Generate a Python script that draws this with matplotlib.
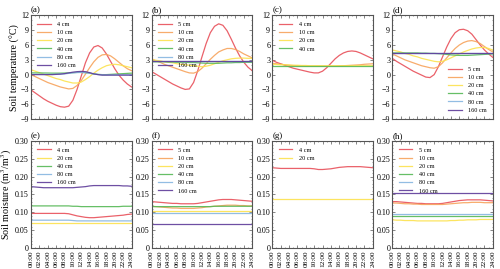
import matplotlib
matplotlib.use("Agg")
import matplotlib.pyplot as plt
from matplotlib.ticker import MultipleLocator, FuncFormatter
import numpy as np

plt.rcParams['font.family'] = ['Liberation Serif', 'DejaVu Serif']
plt.rcParams['mathtext.fontset'] = 'stix'

hours = list(range(25))
time_labels = [f"{h:02d}:00" for h in range(0, 25, 2)]

# ---------------- Soil temperature ----------------
a_labels = ["4 cm", "10 cm", "20 cm", "40 cm", "80 cm", "160 cm"]
a_4 = [-3.1, -3.7, -4.3, -4.9, -5.4, -5.8, -6.2, -6.5, -6.6, -6.4, -5.2, -3.0, -0.3, 2.4, 4.4, 5.6, 5.9, 5.4, 4.2, 2.7, 1.2, -0.1, -1.1, -1.9, -2.5]
a_10 = [0.0, -0.4, -0.8, -1.2, -1.6, -1.9, -2.2, -2.5, -2.7, -2.9, -2.8, -2.2, -1.2, 0.1, 1.4, 2.6, 3.5, 4.0, 4.1, 3.8, 3.2, 2.5, 1.8, 1.2, 0.8]
a_20 = [1.0, 0.7, 0.4, 0.1, -0.2, -0.5, -0.8, -1.0, -1.3, -1.5, -1.7, -1.7, -1.5, -1.0, -0.4, 0.3, 0.9, 1.4, 1.8, 2.0, 2.1, 2.0, 1.8, 1.6, 1.4]
a_40 = [0.35, 0.35, 0.34, 0.33, 0.32, 0.3, 0.3, 0.3, 0.32, 0.35, 0.4, 0.45, 0.45, 0.4, 0.3, 0.15, 0.05, 0.0, 0.0, 0.05, 0.1, 0.15, 0.2, 0.25, 0.3]
a_80 = [0.05, 0.05, 0.05, 0.05, 0.05, 0.05, 0.07, 0.1, 0.15, 0.25, 0.35, 0.42, 0.45, 0.4, 0.28, 0.12, 0.02, -0.03, -0.05, -0.05, -0.05, -0.05, -0.05, -0.05, -0.05]
a_160 = [0.0, 0.0, 0.0, 0.0, 0.0, 0.0, 0.05, 0.1, 0.2, 0.35, 0.5, 0.6, 0.65, 0.6, 0.4, 0.15, 0.0, -0.1, -0.1, -0.1, -0.1, -0.1, -0.1, -0.1, -0.1]

b_labels = ["5 cm", "10 cm", "20 cm", "40 cm", "80 cm", "160 cm"]
b_5 = [0.6, 0.1, -0.4, -0.9, -1.4, -1.9, -2.3, -2.7, -3.0, -2.9, -1.6, 0.8, 3.6, 6.3, 8.5, 9.8, 10.3, 10.0, 8.9, 7.2, 5.4, 3.8, 2.5, 1.5, 0.8]
b_10 = [3.2, 2.8, 2.5, 2.1, 1.8, 1.5, 1.2, 0.9, 0.6, 0.35, 0.3, 0.6, 1.3, 2.2, 3.1, 3.9, 4.6, 5.0, 5.3, 5.3, 5.1, 4.7, 4.2, 3.8, 3.4]
b_20 = [3.0, 2.9, 2.8, 2.6, 2.5, 2.4, 2.2, 2.1, 2.0, 1.9, 1.8, 1.7, 1.6, 1.7, 1.9, 2.2, 2.5, 2.8, 3.0, 3.2, 3.3, 3.35, 3.35, 3.3, 3.3]
b_40 = [2.6, 2.6, 2.6, 2.6, 2.55, 2.55, 2.5, 2.5, 2.5, 2.45, 2.45, 2.4, 2.35, 2.3, 2.3, 2.3, 2.3, 2.35, 2.4, 2.4, 2.45, 2.45, 2.5, 2.5, 2.5]
b_80 = [2.8] * 25
b_160 = [2.8] * 25

c_labels = ["4 cm", "10 cm", "20 cm", "40 cm"]
c_4 = [2.9, 2.5, 2.2, 1.9, 1.6, 1.3, 1.1, 0.9, 0.7, 0.5, 0.35, 0.35, 0.7, 1.4, 2.3, 3.2, 3.9, 4.4, 4.7, 4.8, 4.7, 4.4, 4.0, 3.6, 3.2]
c_10 = [2.3, 2.2, 2.1, 2.0, 1.9, 1.85, 1.8, 1.75, 1.7, 1.7, 1.7, 1.7, 1.7, 1.7, 1.7, 1.7, 1.75, 1.8, 1.85, 1.9, 1.95, 2.0, 2.1, 2.15, 2.2]
c_20 = [2.1, 2.05, 2.0, 2.0, 1.95, 1.9, 1.9, 1.85, 1.85, 1.8, 1.8, 1.8, 1.8, 1.8, 1.8, 1.8, 1.8, 1.8, 1.8, 1.8, 1.8, 1.8, 1.8, 1.8, 1.8]
c_40 = [1.7] * 25

d_labels = ["5 cm", "10 cm", "20 cm", "40 cm", "80 cm", "160 cm"]
d_5 = [3.3, 2.7, 2.2, 1.7, 1.2, 0.7, 0.3, -0.1, -0.5, -0.6, 0.0, 1.6, 3.6, 5.6, 7.3, 8.5, 9.1, 9.2, 8.9, 8.2, 7.1, 6.0, 5.0, 4.2, 3.5]
d_10 = [4.2, 3.8, 3.4, 3.0, 2.7, 2.4, 2.1, 1.8, 1.6, 1.4, 1.3, 1.6, 2.4, 3.4, 4.4, 5.3, 6.0, 6.5, 6.8, 6.9, 6.7, 6.3, 5.7, 5.1, 4.6]
d_20 = [5.0, 4.8, 4.6, 4.3, 4.1, 3.8, 3.6, 3.3, 3.1, 2.9, 2.7, 2.6, 2.7, 3.0, 3.4, 3.8, 4.2, 4.6, 4.9, 5.2, 5.4, 5.5, 5.5, 5.3, 5.0]
d_40 = [4.4, 4.4, 4.4, 4.4, 4.4, 4.4, 4.4, 4.35, 4.35, 4.3, 4.3, 4.25, 4.2, 4.1, 4.0, 3.95, 3.9, 3.9, 3.9, 3.95, 4.0, 4.05, 4.1, 4.15, 4.2]
d_80 = [4.3] * 25
d_160 = [4.3] * 25

# ---------------- Soil moisture ----------------
e_labels = ["4 cm", "20 cm", "40 cm", "80 cm", "160 cm"]
e_4 = [.097, .097, .097, .097, .097, .097, .097, .097, .097, .096, .093, .090, .088, .086, .085, .085, .086, .087, .088, .089, .090, .091, .092, .094, .095]
e_20 = [.071] * 25
e_40 = [.118, .118, .118, .118, .118, .118, .118, .118, .118, .118, .117, .117, .116, .116, .116, .116, .116, .116, .116, .116, .116, .116, .117, .117, .117]
e_80 = [.078, .078, .078, .078, .078, .078, .078, .078, .078, .078, .077, .076, .076, .076, .076, .076, .076, .076, .076, .076, .076, .076, .076, .076, .076]
e_160 = [.172, .171, .170, .169, .169, .169, .169, .169, .169, .169, .169, .170, .171, .172, .174, .175, .175, .175, .175, .175, .175, .175, .174, .174, .173]

f_labels = ["5 cm", "10 cm", "20 cm", "40 cm", "80 cm", "160 cm"]
f_5 = [.130, .129, .128, .127, .126, .125, .125, .124, .124, .124, .124, .125, .127, .129, .131, .133, .135, .136, .136, .136, .135, .134, .133, .132, .131]
f_10 = [.117, .116, .115, .114, .113, .112, .112, .111, .111, .111, .111, .112, .113, .115, .116, .117, .118, .119, .120, .120, .120, .119, .119, .118, .118]
f_20 = [.105] * 25
f_40 = [.116, .116, .116, .116, .116, .116, .116, .116, .116, .116, .116, .116, .116, .116, .116, .117, .117, .117, .117, .117, .117, .117, .117, .117, .117]
f_80 = [.099] * 25
f_160 = [.068] * 25

g_labels = ["4 cm", "20 cm"]
g_4 = [.225, .224, .223, .223, .223, .223, .223, .223, .223, .223, .222, .220, .220, .221, .222, .224, .226, .227, .228, .228, .228, .228, .227, .226, .225]
g_20 = [.138] * 25

h_labels = ["5 cm", "10 cm", "20 cm", "40 cm", "80 cm", "160 cm"]
h_5 = [.130, .130, .129, .128, .127, .126, .125, .125, .124, .124, .124, .124, .125, .127, .129, .131, .133, .134, .135, .135, .135, .135, .134, .133, .132]
h_10 = [.126, .126, .125, .124, .124, .123, .123, .122, .122, .122, .122, .122, .122, .123, .124, .125, .126, .127, .127, .128, .128, .128, .127, .127, .127]
h_20 = [.079, .078, .078, .077, .077, .077, .076, .076, .076, .076, .076, .076, .076, .076, .077, .077, .078, .078, .079, .079, .079, .080, .080, .080, .080]
h_40 = [.090] * 25
h_80 = [.094] * 25
h_160 = [.155] * 25

RED, ORANGE, YELLOW, GREEN, BLUE, PURPLE = '#e8505a', '#f7a35c', '#fce24f', '#55b855', '#86b6e0', '#5e3c99'
cols6 = [RED, ORANGE, YELLOW, GREEN, BLUE, PURPLE]

panels = [
    ("(a)", a_labels, [a_4, a_10, a_20, a_40, a_80, a_160], cols6, 'temp', 'upper left'),
    ("(b)", b_labels, [b_5, b_10, b_20, b_40, b_80, b_160], cols6, 'temp', 'upper left'),
    ("(c)", c_labels, [c_4, c_10, c_20, c_40], cols6[:4], 'temp', 'upper left'),
    ("(d)", d_labels, [d_5, d_10, d_20, d_40, d_80, d_160], cols6, 'temp', 'lower right'),
    ("(e)", e_labels, [e_4, e_20, e_40, e_80, e_160], [RED, YELLOW, GREEN, BLUE, PURPLE], 'moist', 'upper left'),
    ("(f)", f_labels, [f_5, f_10, f_20, f_40, f_80, f_160], cols6, 'moist', 'upper left'),
    ("(g)", g_labels, [g_4, g_20], [RED, YELLOW], 'moist', 'upper left'),
    ("(h)", h_labels, [h_5, h_10, h_20, h_40, h_80, h_160], cols6, 'moist', 'upper left'),
]

fig = plt.figure(figsize=(5.0, 2.69), dpi=100)
lefts = [0.062, 0.3034, 0.5446, 0.7846]
w = 0.201
rows = {'temp': (0.5576, 0.385), 'moist': (0.078, 0.398)}

for i, (tag, labels, series, colors, kind, loc) in enumerate(panels):
    b, hgt = rows[kind]
    ax = fig.add_axes([lefts[i % 4], b, w, hgt])
    for lab, ys, c in zip(labels, series, colors):
        ax.plot(hours, ys, color=c, lw=0.9, alpha=0.9, label=lab)
    ax.set_xlim(0, 24)
    ax.xaxis.set_major_locator(MultipleLocator(2))
    ax.xaxis.set_minor_locator(MultipleLocator(1))
    if kind == 'temp':
        ax.set_ylim(-9, 12)
        ax.yaxis.set_major_locator(MultipleLocator(3))
        ax.yaxis.set_minor_locator(MultipleLocator(1))
        ax.set_xticklabels([])
        if i == 0:
            ax.set_ylabel("Soil temperature (°C)", fontsize=7.2, labelpad=0.5)
    else:
        ax.set_ylim(0, 0.30)
        ax.yaxis.set_major_locator(MultipleLocator(0.05))
        ax.yaxis.set_minor_locator(MultipleLocator(0.01))
        ax.yaxis.set_major_formatter(FuncFormatter(lambda v, p: "0" if abs(v) < 1e-9 else f"{v:.2f}"))
        ax.set_xticks(range(0, 25, 2))
        ax.set_xticklabels(time_labels, rotation=90)
        if i == 4:
            ax.set_ylabel("Soil moisture (m$^3$/m$^3$)", fontsize=7.2, labelpad=0.5)
    ax.tick_params(which='both', direction='in', top=True, right=True, pad=1.5, color='#555555')
    ax.tick_params(axis='y', labelsize=5.8)
    ax.tick_params(axis='x', labelsize=5.3)
    ax.tick_params(which='major', length=2, width=0.5)
    ax.tick_params(which='minor', length=1, width=0.4)
    for s in ax.spines.values():
        s.set_color('#555555')
        s.set_linewidth(0.8)
    ax.text(0.0, 1.01, tag, transform=ax.transAxes, fontsize=6.5, ha='left', va='bottom')
    ax.legend(loc=loc, frameon=False, fontsize=4.5, handlelength=2.2, handletextpad=1.0,
              labelspacing=0.45, borderaxespad=0.6)

fig.savefig("out.png", dpi=100)
